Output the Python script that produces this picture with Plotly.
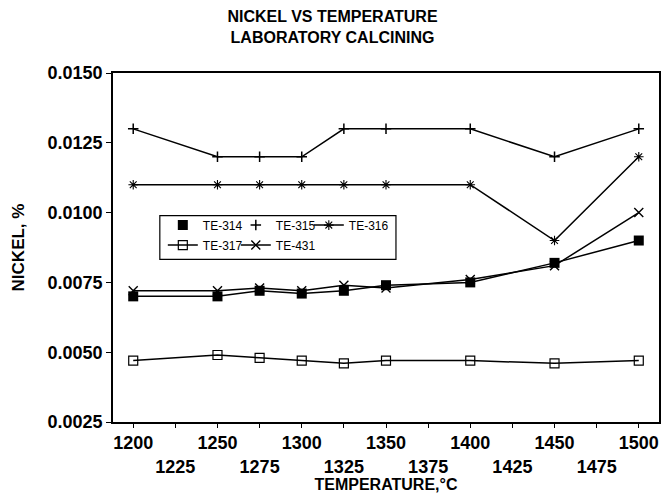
import plotly.graph_objects as go

temps = [1200, 1250, 1275, 1300, 1325, 1350, 1400, 1450, 1500]
te314 = [0.0070, 0.0070, 0.0072, 0.0071, 0.0072, 0.0074, 0.0075, 0.0082, 0.0090]
te315 = [0.0130, 0.0120, 0.0120, 0.0120, 0.0130, 0.0130, 0.0130, 0.0120, 0.0130]
te316 = [0.0110, 0.0110, 0.0110, 0.0110, 0.0110, 0.0110, 0.0110, 0.0090, 0.0120]
te317 = [0.0047, 0.0049, 0.0048, 0.0047, 0.0046, 0.0047, 0.0047, 0.0046, 0.0047]
te431 = [0.0072, 0.0072, 0.0073, 0.0072, 0.0074, 0.0073, 0.0076, 0.0081, 0.0100]

x_tick_vals = [1200, 1225, 1250, 1275, 1300, 1325, 1350, 1375, 1400, 1425, 1450, 1475, 1500]
x_tick_text = ["1200", "<br>1225", "1250", "<br>1275", "1300", "<br>1325", "1350",
               "<br>1375", "1400", "<br>1425", "1450", "<br>1475", "1500"]
y_tick_vals = [0.0025, 0.0050, 0.0075, 0.0100, 0.0125, 0.0150]
y_tick_text = ["0.0025", "0.0050", "0.0075", "0.0100", "0.0125", "0.0150"]

FONT = "Liberation Sans, Arial, sans-serif"
BLACK = "#000000"
LW = 1.5

fig = go.Figure()

# TE-314 : line + filled square (legend shows marker only)
fig.add_trace(go.Scatter(x=temps, y=te314, mode="lines", line=dict(color=BLACK, width=LW),
                         showlegend=False, hoverinfo="skip"))
fig.add_trace(go.Scatter(x=temps, y=te314, mode="markers", name="TE-314",
                         marker=dict(symbol="square", size=10, color=BLACK),
                         legend="legend"))
# TE-315 : line + plus (legend shows marker only)
fig.add_trace(go.Scatter(x=temps, y=te315, mode="lines", line=dict(color=BLACK, width=LW),
                         showlegend=False, hoverinfo="skip"))
fig.add_trace(go.Scatter(x=temps, y=te315, mode="markers", name="TE-315",
                         marker=dict(symbol="cross-thin", size=7.5,
                                     line=dict(color=BLACK, width=1.5), color=BLACK),
                         legend="legend"))
# TE-316 : asterisk
fig.add_trace(go.Scatter(x=temps, y=te316, mode="lines+markers", name="TE-316",
                         line=dict(color=BLACK, width=LW),
                         marker=dict(symbol="asterisk-open", size=8,
                                     line=dict(color=BLACK, width=1.1)),
                         legend="legend", legendwidth=48))
# TE-317 : open square
fig.add_trace(go.Scatter(x=temps, y=te317, mode="lines+markers", name="TE-317",
                         line=dict(color=BLACK, width=LW),
                         marker=dict(symbol="square-open", size=9,
                                     line=dict(color=BLACK, width=1.2)),
                         legend="legend2"))
# TE-431 : x
fig.add_trace(go.Scatter(x=temps, y=te431, mode="lines+markers", name="TE-431",
                         line=dict(color=BLACK, width=LW),
                         marker=dict(symbol="x-thin-open", size=9,
                                     line=dict(color=BLACK, width=1.4)),
                         legend="legend2", legendwidth=48))

W, H = 665, 493
L, R, T, B = 113, 4, 73, 70

def px_x(px):
    return (px - L) / (W - L - R)

def px_y(py):
    return (H - B - py) / (H - T - B)

legend_common = dict(orientation="h", xanchor="left", yanchor="top",
                     bgcolor="rgba(0,0,0,0)", borderwidth=0,
                     font=dict(size=12, family=FONT, color=BLACK),
                     itemwidth=30, tracegroupgap=0, entrywidth=28, entrywidthmode="pixels")

fig.update_layout(
    width=W, height=H,
    margin=dict(l=L, r=R, t=T, b=B),
    paper_bgcolor="white", plot_bgcolor="white",
    font=dict(family=FONT, color=BLACK),
    title=dict(text="<b>NICKEL VS TEMPERATURE<br>LABORATORY CALCINING</b>",
               x=0.5, xanchor="center", y=0.955, yanchor="top",
               font=dict(size=16, family=FONT, color=BLACK)),
    xaxis=dict(range=[1188, 1512], tickmode="array", tickvals=x_tick_vals,
               ticktext=x_tick_text, ticks="outside", ticklen=4, tickcolor=BLACK,
               showline=True, linecolor=BLACK, linewidth=1.5, mirror=True,
               showgrid=False, zeroline=False,
               tickfont=dict(size=18, family=FONT, color=BLACK, weight="bold"),
               title=dict(text="<b>TEMPERATURE,°C</b>", standoff=1,
                          font=dict(size=16, family=FONT, color=BLACK))),
    yaxis=dict(range=[0.0025, 0.0150], tickmode="array", tickvals=y_tick_vals,
               ticktext=y_tick_text, ticks="outside", ticklen=5, tickcolor=BLACK,
               showline=True, linecolor=BLACK, linewidth=1.5, mirror=True,
               showgrid=False, zeroline=False,
               tickfont=dict(size=18, family=FONT, color=BLACK, weight="bold"),
               title=dict(text="<b>NICKEL, %</b>", standoff=19,
                          font=dict(size=17, family=FONT, color=BLACK))),
    legend=dict(x=px_x(163), y=px_y(211), **legend_common),
    legend2=dict(x=px_x(163), y=px_y(231), **legend_common),
    shapes=[dict(type="rect", xref="paper", yref="paper",
                 x0=px_x(160), x1=px_x(397), y0=px_y(260), y1=px_y(216),
                 line=dict(color=BLACK, width=1.2), fillcolor="white", layer="below")],
)

fig.write_html("out.html", config={"displayModeBar": False},
               post_script="document.body.style.margin='0';")
